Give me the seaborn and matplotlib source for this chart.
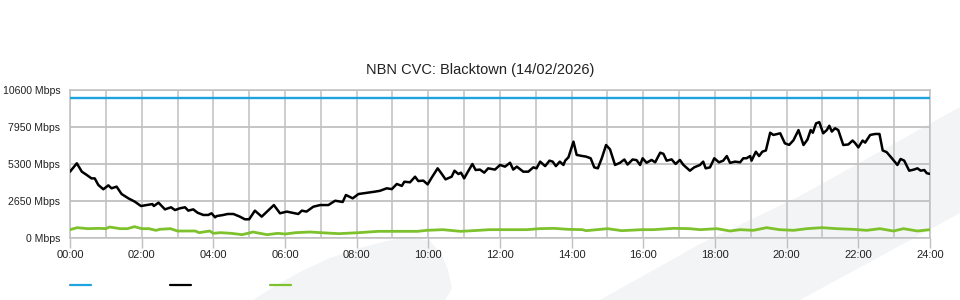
import matplotlib
matplotlib.use("Agg")
import matplotlib.pyplot as plt
import matplotlib.ticker as mticker
from matplotlib.patches import Polygon
from matplotlib.lines import Line2D
import pandas as pd
import seaborn as sns

title = "NBN CVC: Blacktown (14/02/2026)"
y_ticks = [0, 2650, 5300, 7950, 10600]
x_label_hours = list(range(0, 25, 2))

capacity_hours = [0, 24]
capacity_mbps = [10000, 10000]

traffic_hours = [
    0.00, 0.19, 0.33, 0.47, 0.60, 0.69, 0.79, 0.93, 1.07, 1.16, 1.30, 1.44, 1.63, 1.81, 1.98,
    2.14, 2.30, 2.34, 2.47, 2.65, 2.82, 2.93, 3.07, 3.21, 3.30, 3.44, 3.56, 3.72, 3.86, 3.95,
    4.05, 4.09, 4.28, 4.40, 4.56, 4.74, 4.88, 5.00, 5.16, 5.35, 5.69, 5.86, 6.05, 6.37, 6.47,
    6.60, 6.79, 6.98, 7.21, 7.40, 7.61, 7.70, 7.89, 8.05, 8.51, 8.65, 8.84, 8.98, 9.12, 9.26,
    9.33, 9.49, 9.63, 9.72, 9.86, 9.98, 10.11, 10.26, 10.35, 10.48, 10.65, 10.73, 10.84, 10.91,
    11.00, 11.12, 11.23, 11.32, 11.44, 11.56, 11.67, 11.86, 12.00, 12.14, 12.28, 12.37, 12.47,
    12.65, 12.79, 12.93, 13.02, 13.12, 13.26, 13.38, 13.47, 13.56, 13.67, 13.77, 13.82, 13.91,
    14.05, 14.14, 14.28, 14.40, 14.53, 14.63, 14.73, 14.84, 14.96, 15.07, 15.21, 15.35, 15.47,
    15.56, 15.70, 15.81, 15.91, 15.98, 16.09, 16.23, 16.33, 16.47, 16.56, 16.65, 16.79, 16.90,
    17.02, 17.12, 17.30, 17.42, 17.58, 17.67, 17.74, 17.86, 17.98, 18.11, 18.23, 18.33, 18.42,
    18.56, 18.70, 18.79, 18.88, 18.98, 19.02, 19.14, 19.23, 19.32, 19.42, 19.54, 19.63, 19.82,
    19.95, 20.07, 20.19, 20.33, 20.47, 20.58, 20.67, 20.73, 20.82, 20.91, 21.02, 21.12, 21.19,
    21.26, 21.35, 21.44, 21.58, 21.72, 21.84, 21.91, 22.00, 22.12, 22.19, 22.33, 22.47, 22.59,
    22.68, 22.79, 22.93, 23.09, 23.18, 23.28, 23.42, 23.55, 23.65, 23.74, 23.84, 23.91, 24.00,
]
traffic_mbps = [
    4750, 5350, 4750, 4510, 4270, 4270, 3800, 3490, 3770, 3560, 3680, 3150, 2840, 2600, 2290,
    2360, 2430, 2290, 2530, 2050, 2200, 2000, 2130, 2200, 1960, 2050, 1810, 1650, 1650, 1770,
    1480, 1570, 1650, 1720, 1720, 1530, 1340, 1340, 1960, 1530, 2360, 1770, 1890, 1720, 1960,
    1890, 2240, 2360, 2360, 2670, 2580, 3080, 2840, 3150, 3320, 3380, 3560, 3500, 3870, 3730,
    4030, 3990, 4390, 4080, 4110, 3840, 4390, 4990, 4680, 4200, 4390, 4820, 4580, 4680,
    4270, 4820, 5300, 4870, 4900, 4680, 4990, 4900, 5230, 5110, 5390, 4900, 5110,
    4750, 4750, 5060, 4990, 5470, 5150, 5540, 5470, 5150, 5470, 5230, 5540, 5780,
    6900, 5950, 5880, 5830, 5710, 5060, 4990, 5710, 6660, 6350, 5230, 5390, 5620,
    5260, 5620, 5580, 5230, 5710, 5390, 5590, 5420, 6110, 6030, 5540, 5630, 5300,
    5590, 5230, 4820, 5060, 5230, 5470, 4990, 5060, 5710, 5420, 5540, 5870, 5380,
    5470, 5420, 5710, 5710, 5870, 5540, 6180, 5870, 6180, 6270, 7540, 7380, 7500,
    6780, 6670, 7000, 7730, 6660, 7050, 7730, 7540, 8210, 8300, 7500, 7730, 8040,
    7620, 7860, 7730, 6660, 6700, 6980, 6800, 6490, 6980, 6830, 7380, 7450, 7450,
    6270, 6150, 5730, 5230, 5660, 5540, 4820, 4900, 4990, 4820, 4870, 4640, 4590,
]

other_hours = [
    0.0, 0.2, 0.5, 0.8, 1.0, 1.1, 1.4, 1.6, 1.8, 2.0, 2.2, 2.4, 2.5, 2.8, 3.0, 3.5, 3.6, 3.9,
    4.0, 4.2, 4.5, 4.8, 5.0, 5.1, 5.5, 5.8, 6.0, 6.3, 6.7, 7.0, 7.5, 8.05, 8.6, 9.14, 9.7,
    9.95, 10.4, 10.9, 11.4, 11.7, 12.2, 12.75, 13.1, 13.5, 13.9, 14.3, 14.4, 15.0, 15.4,
    15.95, 16.28, 16.84, 17.3, 17.58, 18.05, 18.42, 18.7, 19.07, 19.44, 19.8, 20.19, 20.56,
    20.98, 21.4, 21.86, 22.23, 22.6, 22.98, 23.26, 23.65, 24.0,
]
other_mbps = [
    597, 740, 668, 692, 668, 788, 668, 668, 812, 668, 668, 549, 621, 668, 501, 501, 382, 501,
    334, 382, 334, 239, 358, 430, 239, 334, 286, 382, 430, 382, 310, 382, 477, 477, 477,
    549, 597, 477, 549, 597, 597, 597, 668, 692, 621, 597, 525, 668, 525,
    597, 597, 692, 668, 597, 668, 501, 597, 549, 740, 597, 549, 668,
    740, 668, 621, 549, 668, 501, 668, 501, 597,
]

BLUE = "#1fa3de"
BLACK = "#000000"
GREEN = "#7dc12c"
GRID = "#c0c0c0"
BG = "#f3f4f6"

sns.set_style("white")
plt.rcParams["font.family"] = ["Liberation Sans", "DejaVu Sans"]

W, H = 960, 300
fig = plt.figure(figsize=(W / 100, H / 100), dpi=100)
fig.patch.set_facecolor("white")

def fpts(pts):
    return [(x / W, 1 - y / H) for x, y in pts]

blob = [(253, 300), (275, 286), (300, 272), (330, 258), (360, 248), (387, 241), (410, 237),
        (430, 241), (442, 255), (448, 270), (452, 288), (445, 300)]
band = [(600, 300), (700, 244), (800, 196), (960, 107), (960, 213), (800, 300)]
for shape in (blob, band):
    fig.add_artist(Polygon(fpts(shape), closed=True, transform=fig.transFigure,
                           facecolor=BG, edgecolor="none", zorder=0))

ax = fig.add_axes([70 / W, 62 / H, 860 / W, 148 / H])
ax.set_facecolor("none")
ax.set_zorder(1)

cap_df = pd.DataFrame({"hour": capacity_hours, "mbps": capacity_mbps})
tr_df = pd.DataFrame({"hour": traffic_hours, "mbps": traffic_mbps})
ot_df = pd.DataFrame({"hour": other_hours, "mbps": other_mbps})

sns.lineplot(data=cap_df, x="hour", y="mbps", ax=ax, color=BLUE, linewidth=1.7,
             estimator=None, sort=False, zorder=3)
sns.lineplot(data=ot_df, x="hour", y="mbps", ax=ax, color=GREEN, linewidth=2.0,
             estimator=None, sort=False, zorder=3)
sns.lineplot(data=tr_df, x="hour", y="mbps", ax=ax, color=BLACK, linewidth=1.8,
             estimator=None, sort=False, zorder=4)

ax.set_xlim(0, 24)
ax.set_ylim(0, 10600)
ax.set_xlabel("")
ax.set_ylabel("")

ax.xaxis.set_major_locator(mticker.FixedLocator(x_label_hours))
ax.xaxis.set_minor_locator(mticker.MultipleLocator(1))
ax.xaxis.set_major_formatter(mticker.FuncFormatter(lambda v, p: f"{int(v):02d}:00"))
ax.yaxis.set_major_locator(mticker.FixedLocator(y_ticks))
ax.yaxis.set_major_formatter(mticker.FuncFormatter(lambda v, p: f"{int(v)} Mbps"))

ax.grid(True, which="both", axis="x", color=GRID, linewidth=1.1, zorder=1)
ax.grid(True, which="major", axis="y", color=GRID, linewidth=1.3, zorder=1)
ax.set_axisbelow(True)

ax.tick_params(axis="x", which="major", length=7, width=1.0, color=GRID, pad=2,
               labelsize=8, labelcolor="#222222", bottom=True)
ax.tick_params(axis="x", which="minor", length=0)
ax.tick_params(axis="y", which="major", length=0, pad=7, labelsize=7.6, labelcolor="#222222")

for s in ax.spines.values():
    s.set_visible(True)
    s.set_color(GRID)
    s.set_linewidth(1.1)

fig.text(0.5, 1 - 70 / H, title, ha="center", va="center", fontsize=10.5, color="#222222")

for x0, col in ((70, BLUE), (170, BLACK), (270, GREEN)):
    fig.add_artist(Line2D([x0 / W, (x0 + 21) / W], [1 - 285 / H, 1 - 285 / H],
                          transform=fig.transFigure, color=col, linewidth=1.6))

fig.savefig("out.png", dpi=100)
